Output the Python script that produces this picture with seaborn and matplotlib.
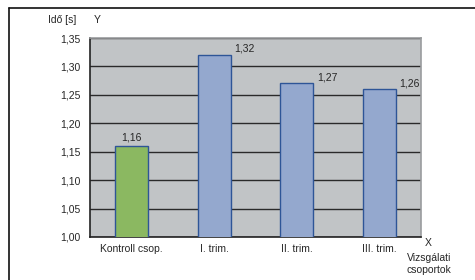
import seaborn as sns
import matplotlib.pyplot as plt
import pandas as pd
from matplotlib.lines import Line2D

# data
groups = ["Kontroll csop.", "I. trim.", "II. trim.", "III. trim."]
times = [1.16, 1.32, 1.27, 1.26]
labels = ["1,16", "1,32", "1,27", "1,26"]
yticks = [1.00, 1.05, 1.10, 1.15, 1.20, 1.25, 1.30, 1.35]

df = pd.DataFrame({"group": groups, "time": times})

sns.set_theme(style="white")
plt.rcParams["font.family"] = ["Liberation Sans", "DejaVu Sans"]
fs = 7.5

fig = plt.figure(figsize=(4.75, 2.8), dpi=100)
ax = fig.add_axes([90/475, 1-237/280, 331/475, 199/280])

colors = ["#8AC653", "#8AA5D8", "#8AA5D8", "#8AA5D8"]
sns.barplot(data=df, x="group", y="time", hue="group", palette=colors,
            legend=False, width=0.4, edgecolor="#2E5597", linewidth=1.0,
            ax=ax, zorder=3)

ax.set_facecolor("#C1C4C6")
ax.set_ylim(1.0, 1.35)
ax.set_xlim(-0.5, 3.5)
ax.set_yticks(yticks)
ax.set_yticklabels([f"{v:.2f}".replace(".", ",") for v in yticks], fontsize=fs)
ax.grid(axis="y", color="#2a2a2a", linewidth=1.0, zorder=1)
ax.set_axisbelow(True)

# tick marks between categories, labels centred under bars
ax.set_xticks([-0.5, 0.5, 1.5, 2.5, 3.5])
ax.set_xticklabels([])
ax.set_xticks([0, 1, 2, 3], minor=True)
ax.set_xticklabels(groups, minor=True, fontsize=fs)
ax.tick_params(axis="x", which="minor", length=0, pad=5)
ax.tick_params(axis="x", which="major", length=4, width=1, color="#222222", direction="out")
ax.tick_params(axis="y", length=4, width=1, color="#222222", direction="out", pad=3)
ax.set_xlabel("")
ax.set_ylabel("")

for s in ["left", "bottom"]:
    ax.spines[s].set_color("#222222")
    ax.spines[s].set_linewidth(1.2)
for s in ["right", "top"]:
    ax.spines[s].set_color("#9a9c9e")
    ax.spines[s].set_linewidth(1.2)

for i, (v, t) in enumerate(zip(times, labels)):
    if i == 0:
        ax.text(i, v + 0.006, t, ha="center", va="bottom", fontsize=fs)
    else:
        ax.text(i + 0.24, v + 0.002, t, ha="left", va="bottom", fontsize=fs)

fig.text(48/475, 1-20/280, "Idő [s]", fontsize=fs, ha="left", va="center")
fig.text(94/475, 1-20/280, "Y", fontsize=fs, ha="left", va="center")
fig.text(428/475, 1-243/280, "X", fontsize=fs, ha="center", va="center")
fig.text(429/475, 1-264/280, "Vizsgálati\ncsoportok", fontsize=fs,
         ha="center", va="center", linespacing=1.3)

# outer frame
fig.add_artist(Line2D([9/475, 9/475], [0, 1-8/280], color="#111111", lw=1.2))
fig.add_artist(Line2D([9/475, 1], [1-8/280, 1-8/280], color="#111111", lw=1.2))

fig.savefig("out.png", dpi=100)
